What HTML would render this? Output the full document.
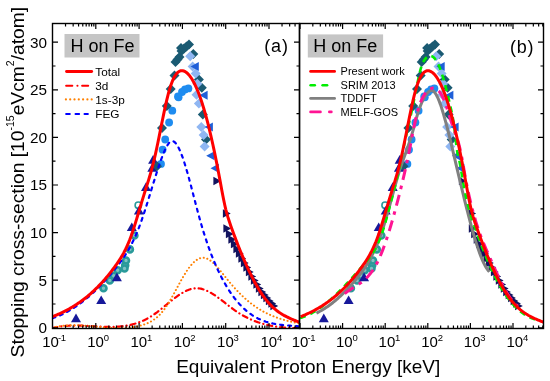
<!DOCTYPE html><html><head><meta charset="utf-8"><style>html,body{margin:0;padding:0;background:#fff;width:550px;height:381px;overflow:hidden}svg{display:block;will-change:transform;font-family:"Liberation Sans",sans-serif}</style></head><body>
<svg width="550" height="381" viewBox="0 0 550 381">
<rect width="550" height="381" fill="#fff"/>
<rect x="64.5" y="34" width="75" height="23.5" fill="#c5c5c5"/>
<rect x="307.8" y="34.4" width="75.3" height="23.1" fill="#c5c5c5"/>
<text x="70.4" y="51.6" font-size="18" fill="#000">H on Fe</text>
<text x="313.2" y="51.6" font-size="18" fill="#000">H on Fe</text>
<text x="264.3" y="51.5" font-size="18" letter-spacing="0.8">(a)</text>
<text x="510" y="52.5" font-size="18" letter-spacing="0.8">(b)</text>
<line x1="66.5" y1="71.5" x2="91.7" y2="71.5" stroke="#ff0000" stroke-width="2.8" stroke-linecap="round"/>
<line x1="66.1" y1="85.7" x2="72.3" y2="85.7" stroke="#ff0000" stroke-width="2.0" stroke-linecap="round"/>
<line x1="77.4" y1="85.7" x2="77.5" y2="85.7" stroke="#ff0000" stroke-width="2.0" stroke-linecap="round"/>
<line x1="82.1" y1="85.7" x2="88.2" y2="85.7" stroke="#ff0000" stroke-width="2.0" stroke-linecap="round"/>
<circle cx="65.9" cy="99.4" r="1.1" fill="#ff8000"/>
<circle cx="70.2" cy="99.4" r="1.1" fill="#ff8000"/>
<circle cx="74.5" cy="99.4" r="1.1" fill="#ff8000"/>
<circle cx="78.8" cy="99.4" r="1.1" fill="#ff8000"/>
<circle cx="83.1" cy="99.4" r="1.1" fill="#ff8000"/>
<circle cx="87.4" cy="99.4" r="1.1" fill="#ff8000"/>
<circle cx="91.7" cy="99.4" r="1.1" fill="#ff8000"/>
<line x1="66.1" y1="113.9" x2="69.8" y2="113.9" stroke="#0000ff" stroke-width="2.0" stroke-linecap="round"/>
<line x1="75.5" y1="113.9" x2="79.1" y2="113.9" stroke="#0000ff" stroke-width="2.0" stroke-linecap="round"/>
<line x1="84.5" y1="113.9" x2="87.9" y2="113.9" stroke="#0000ff" stroke-width="2.0" stroke-linecap="round"/>
<text x="95.3" y="75.6" font-size="11.8">Total</text>
<text x="95.3" y="89.8" font-size="11.8">3d</text>
<text x="95.3" y="103.5" font-size="11.8">1s-3p</text>
<text x="95.3" y="118.0" font-size="11.8">FEG</text>
<line x1="310.6" y1="71.4" x2="334.6" y2="71.4" stroke="#ff0000" stroke-width="2.8" stroke-linecap="round"/>
<line x1="310.6" y1="85.3" x2="314.8" y2="85.3" stroke="#00ee00" stroke-width="2.6" stroke-linecap="round"/>
<line x1="322.6" y1="85.3" x2="327.1" y2="85.3" stroke="#00ee00" stroke-width="2.6" stroke-linecap="round"/>
<line x1="310.6" y1="98.4" x2="334.6" y2="98.4" stroke="#808080" stroke-width="2.8" stroke-linecap="round"/>
<line x1="310.6" y1="111.9" x2="320.4" y2="111.9" stroke="#ff1493" stroke-width="2.8" stroke-linecap="round"/>
<line x1="329.4" y1="111.9" x2="331.3" y2="111.9" stroke="#ff1493" stroke-width="2.8" stroke-linecap="round"/>
<text x="340.6" y="75.3" font-size="11">Present work</text>
<text x="340.6" y="89.2" font-size="11">SRIM 2013</text>
<text x="340.6" y="102.3" font-size="11">TDDFT</text>
<text x="340.6" y="115.8" font-size="11">MELF-GOS</text>
<defs><clipPath id="cl"><rect x="52.5" y="23.5" width="247.0" height="305.0"/></clipPath><clipPath id="cr"><rect x="299.5" y="23.5" width="244.0" height="305.0"/></clipPath></defs>
<g clip-path="url(#cl)">
<circle cx="103.5" cy="288.3" r="3.0" fill="#7fc2c2" stroke="#2a9a9a" stroke-width="2.6"/>
<circle cx="109.8" cy="280.5" r="3.0" fill="#7fc2c2" stroke="#2a9a9a" stroke-width="2.6"/>
<circle cx="113.8" cy="275.7" r="3.0" fill="#7fc2c2" stroke="#2a9a9a" stroke-width="2.6"/>
<circle cx="117.7" cy="270.2" r="3.0" fill="#7fc2c2" stroke="#2a9a9a" stroke-width="2.6"/>
<circle cx="125.2" cy="265.2" r="3.0" fill="#7fc2c2" stroke="#2a9a9a" stroke-width="2.6"/>
<circle cx="126.0" cy="260.5" r="3.0" fill="#7fc2c2" stroke="#2a9a9a" stroke-width="2.6"/>
<circle cx="124.5" cy="268.5" r="3.0" fill="#7fc2c2" stroke="#2a9a9a" stroke-width="2.6"/>
<circle cx="129.9" cy="249.4" r="3.0" fill="#7fc2c2" stroke="#2a9a9a" stroke-width="2.6"/>
<circle cx="134.4" cy="235.5" r="3.0" fill="#7fc2c2" stroke="#2a9a9a" stroke-width="2.6"/>
<circle cx="138.3" cy="205.2" r="3.2" fill="none" stroke="#2a9a9a" stroke-width="1.6"/>
<path d="M76.0,313.5 L81.0,322.2 L71.0,322.2Z" fill="#16189a"/>
<path d="M101.2,295.4 L106.2,304.1 L96.2,304.1Z" fill="#16189a"/>
<path d="M116.9,272.5 L121.9,281.2 L111.9,281.2Z" fill="#16189a"/>
<path d="M131.8,222.4 L136.8,231.1 L126.8,231.1Z" fill="#16189a"/>
<path d="M138.9,205.9 L143.9,214.6 L133.9,214.6Z" fill="#16189a"/>
<path d="M146.0,182.3 L151.0,191.0 L141.0,191.0Z" fill="#16189a"/>
<path d="M152.3,163.0 L157.3,171.7 L147.3,171.7Z" fill="#16189a"/>
<path d="M153.1,155.1 L158.1,163.8 L148.1,163.8Z" fill="#16189a"/>
<circle cx="165.2" cy="139.5" r="3.9" fill="#1e8cf0"/>
<circle cx="162.6" cy="149.7" r="3.9" fill="#1e8cf0"/>
<circle cx="161.0" cy="163.9" r="3.9" fill="#1e8cf0"/>
<circle cx="169.1" cy="122.5" r="3.9" fill="#1e8cf0"/>
<circle cx="172.3" cy="110.7" r="3.9" fill="#1e8cf0"/>
<circle cx="178.6" cy="97.3" r="3.9" fill="#1e8cf0"/>
<circle cx="182.0" cy="92.0" r="3.9" fill="#1e8cf0"/>
<circle cx="185.0" cy="89.4" r="3.9" fill="#1e8cf0"/>
<circle cx="188.4" cy="88.4" r="3.9" fill="#1e8cf0"/>
<circle cx="178.0" cy="96.4" r="3.9" fill="#1e8cf0"/>
<path d="M175.5,57.0 L180.5,62.0 L175.5,67.0 L170.5,62.0Z" fill="#1a5a72"/>
<path d="M177.5,54.5 L182.5,59.5 L177.5,64.5 L172.5,59.5Z" fill="#1a5a72"/>
<path d="M179.5,52.0 L184.5,57.0 L179.5,62.0 L174.5,57.0Z" fill="#1a5a72"/>
<path d="M181.5,46.0 L186.5,51.0 L181.5,56.0 L176.5,51.0Z" fill="#1a5a72"/>
<path d="M184.0,43.5 L189.0,48.5 L184.0,53.5 L179.0,48.5Z" fill="#1a5a72"/>
<path d="M186.5,41.5 L191.5,46.5 L186.5,51.5 L181.5,46.5Z" fill="#1a5a72"/>
<path d="M189.0,39.5 L194.0,44.5 L189.0,49.5 L184.0,44.5Z" fill="#1a5a72"/>
<path d="M181.0,43.0 L186.0,48.0 L181.0,53.0 L176.0,48.0Z" fill="#1a5a72"/>
<path d="M193.3,48.9 L198.3,53.9 L193.3,58.9 L188.3,53.9Z" fill="#1a5a72"/>
<path d="M174.5,70.5 L179.5,75.5 L174.5,80.5 L169.5,75.5Z" fill="#1a5a72"/>
<path d="M170.7,83.9 L175.7,88.9 L170.7,93.9 L165.7,88.9Z" fill="#1a5a72"/>
<path d="M198.9,74.5 L203.9,79.5 L198.9,84.5 L193.9,79.5Z" fill="#1a5a72"/>
<path d="M201.8,82.8 L206.8,87.8 L201.8,92.8 L196.8,87.8Z" fill="#1a5a72"/>
<path d="M166.8,101.0 L171.8,106.0 L166.8,111.0 L161.8,106.0Z" fill="#1a5a72"/>
<path d="M162.0,123.0 L167.0,128.0 L162.0,133.0 L157.0,128.0Z" fill="#1a5a72"/>
<path d="M157.0,161.2 L162.0,166.2 L157.0,171.2 L152.0,166.2Z" fill="#1a5a72"/>
<path d="M202.8,109.4 L207.8,114.4 L202.8,119.4 L197.8,114.4Z" fill="#1a5a72"/>
<path d="M206.0,134.6 L211.0,139.6 L206.0,144.6 L201.0,139.6Z" fill="#1a5a72"/>
<path d="M190.2,51.3 L195.2,56.3 L190.2,61.3 L185.2,56.3Z" fill="#8fb6f2"/>
<path d="M192.6,61.5 L197.6,66.5 L192.6,71.5 L187.6,66.5Z" fill="#8fb6f2"/>
<path d="M195.7,68.5 L200.7,73.5 L195.7,78.5 L190.7,73.5Z" fill="#8fb6f2"/>
<path d="M197.3,78.8 L202.3,83.8 L197.3,88.8 L192.3,83.8Z" fill="#8fb6f2"/>
<path d="M196.5,89.7 L201.5,94.7 L196.5,99.7 L191.5,94.7Z" fill="#8fb6f2"/>
<path d="M198.9,98.4 L203.9,103.4 L198.9,108.4 L193.9,103.4Z" fill="#8fb6f2"/>
<path d="M201.3,122.0 L206.3,127.0 L201.3,132.0 L196.3,127.0Z" fill="#8fb6f2"/>
<path d="M203.6,129.9 L208.6,134.9 L203.6,139.9 L198.6,134.9Z" fill="#8fb6f2"/>
<path d="M204.6,141.5 L209.6,146.5 L204.6,151.5 L199.6,146.5Z" fill="#8fb6f2"/>
<path d="M190.5,66.5 L198.8,62.0 L198.8,71.0Z" fill="#1f5fd8"/>
<path d="M199.3,95.3 L207.6,90.8 L207.6,99.8Z" fill="#1f5fd8"/>
<path d="M204.6,127.0 L212.9,122.5 L212.9,131.5Z" fill="#1f5fd8"/>
<path d="M206.2,155.7 L214.5,151.2 L214.5,160.2Z" fill="#1f5fd8"/>
<path d="M210.5,168.3 L218.8,163.8 L218.8,172.8Z" fill="#1f5fd8"/>
<path d="M221.2,181.0 L213.4,176.8 L213.4,185.2Z" fill="#12135e"/>
<path d="M230.7,213.5 L222.9,209.3 L222.9,217.7Z" fill="#12135e"/>
<path d="M231.2,228.5 L223.4,224.3 L223.4,232.7Z" fill="#12135e"/>
<path d="M233.7,234.0 L225.9,229.8 L225.9,238.2Z" fill="#12135e"/>
<path d="M236.2,239.5 L228.4,235.3 L228.4,243.7Z" fill="#12135e"/>
<path d="M238.7,244.0 L230.9,239.8 L230.9,248.2Z" fill="#12135e"/>
<path d="M241.2,249.0 L233.4,244.8 L233.4,253.2Z" fill="#12135e"/>
<path d="M243.7,253.5 L235.9,249.3 L235.9,257.7Z" fill="#12135e"/>
<path d="M246.2,258.5 L238.4,254.3 L238.4,262.7Z" fill="#12135e"/>
<path d="M248.7,263.0 L240.9,258.8 L240.9,267.2Z" fill="#12135e"/>
<path d="M251.2,267.5 L243.4,263.3 L243.4,271.7Z" fill="#12135e"/>
<path d="M253.7,272.0 L245.9,267.8 L245.9,276.2Z" fill="#12135e"/>
<path d="M256.2,276.5 L248.4,272.3 L248.4,280.7Z" fill="#12135e"/>
<path d="M258.7,280.5 L250.9,276.3 L250.9,284.7Z" fill="#12135e"/>
<path d="M261.2,284.5 L253.4,280.3 L253.4,288.7Z" fill="#12135e"/>
<path d="M263.7,288.5 L255.9,284.3 L255.9,292.7Z" fill="#12135e"/>
<path d="M266.2,292.0 L258.4,287.8 L258.4,296.2Z" fill="#12135e"/>
<path d="M268.7,295.0 L260.9,290.8 L260.9,299.2Z" fill="#12135e"/>
<path d="M271.2,298.0 L263.4,293.8 L263.4,302.2Z" fill="#12135e"/>
<path d="M273.7,301.0 L265.9,296.8 L265.9,305.2Z" fill="#12135e"/>
<path d="M276.2,303.5 L268.4,299.3 L268.4,307.7Z" fill="#12135e"/>
<path d="M278.2,306.0 L270.4,301.8 L270.4,310.2Z" fill="#12135e"/>
<path d="M52.40,328.16 L53.40,327.90 L54.40,327.66 L55.41,327.44 L56.41,327.23 L57.41,327.03 L58.41,326.85 L59.42,326.68 L60.42,326.53 L61.42,326.39 L62.42,326.26 L63.43,326.14 L64.43,326.04 L65.43,325.94 L66.43,325.86 L67.44,325.79 L68.44,325.73 L69.44,325.68 L70.44,325.63 L71.45,325.60 L72.45,325.57 L73.45,325.56 L74.45,325.55 L75.46,325.55 L76.46,325.55 L77.46,325.56 L78.46,325.58 L79.47,325.60 L80.47,325.63 L81.47,325.66 L82.47,325.70 L83.48,325.74 L84.48,325.79 L85.48,325.84 L86.48,325.89 L87.49,325.94 L88.49,326.00 L89.49,326.05 L90.49,326.11 L91.49,326.17 L92.50,326.23 L93.50,326.29 L94.50,326.35 L95.50,326.41 L96.51,326.47 L97.51,326.53 L98.51,326.58 L99.51,326.63 L100.52,326.68 L101.52,326.73 L102.52,326.77 L103.52,326.81 L104.53,326.84 L105.53,326.87 L106.53,326.89 L107.53,326.91 L108.54,326.92 L109.54,326.93 L110.54,326.93 L111.54,326.92 L112.55,326.90 L113.55,326.88 L114.55,326.85 L115.55,326.80 L116.56,326.75 L117.56,326.69 L118.56,326.62 L119.56,326.54 L120.57,326.45 L121.57,326.35 L122.57,326.23 L123.57,326.11 L124.57,325.97 L125.58,325.81 L126.58,325.65 L127.58,325.47 L128.58,325.28 L129.59,325.07 L130.59,324.85 L131.59,324.61 L132.59,324.35 L133.60,324.08 L134.60,323.80 L135.60,323.49 L136.60,323.17 L137.61,322.84 L138.61,322.48 L139.61,322.10 L140.61,321.71 L141.62,321.30 L142.62,320.86 L143.62,320.41 L144.62,319.94 L145.63,319.44 L146.63,318.92 L147.63,318.39 L148.63,317.83 L149.64,317.24 L150.64,316.64 L151.64,316.01 L152.64,315.36 L153.65,314.68 L154.65,313.98 L155.65,313.26 L156.65,312.52 L157.66,311.77 L158.66,311.00 L159.66,310.22 L160.66,309.42 L161.66,308.62 L162.67,307.81 L163.67,306.99 L164.67,306.17 L165.67,305.34 L166.68,304.52 L167.68,303.69 L168.68,302.87 L169.68,302.06 L170.69,301.25 L171.69,300.44 L172.69,299.65 L173.69,298.87 L174.70,298.10 L175.70,297.35 L176.70,296.62 L177.70,295.90 L178.71,295.21 L179.71,294.53 L180.71,293.89 L181.71,293.26 L182.72,292.67 L183.72,292.10 L184.72,291.57 L185.72,291.07 L186.73,290.60 L187.73,290.17 L188.73,289.78 L189.73,289.43 L190.74,289.12 L191.74,288.86 L192.74,288.64 L193.74,288.46 L194.74,288.34 L195.75,288.27 L196.75,288.25 L197.75,288.28 L198.75,288.37 L199.76,288.50 L200.76,288.69 L201.76,288.92 L202.76,289.19 L203.77,289.51 L204.77,289.86 L205.77,290.26 L206.77,290.69 L207.78,291.16 L208.78,291.66 L209.78,292.19 L210.78,292.76 L211.79,293.35 L212.79,293.96 L213.79,294.60 L214.79,295.26 L215.80,295.95 L216.80,296.65 L217.80,297.37 L218.80,298.10 L219.81,298.84 L220.81,299.60 L221.81,300.37 L222.81,301.14 L223.82,301.92 L224.82,302.70 L225.82,303.49 L226.82,304.27 L227.83,305.06 L228.83,305.83 L229.83,306.61 L230.83,307.38 L231.83,308.13 L232.84,308.88 L233.84,309.61 L234.84,310.33 L235.84,311.04 L236.85,311.72 L237.85,312.39 L238.85,313.04 L239.85,313.67 L240.86,314.28 L241.86,314.87 L242.86,315.45 L243.86,316.01 L244.87,316.56 L245.87,317.09 L246.87,317.60 L247.87,318.10 L248.88,318.58 L249.88,319.04 L250.88,319.49 L251.88,319.93 L252.89,320.35 L253.89,320.75 L254.89,321.15 L255.89,321.52 L256.90,321.89 L257.90,322.24 L258.90,322.58 L259.90,322.90 L260.91,323.22 L261.91,323.52 L262.91,323.81 L263.91,324.08 L264.91,324.35 L265.92,324.60 L266.92,324.84 L267.92,325.08 L268.92,325.30 L269.93,325.51 L270.93,325.71 L271.93,325.90 L272.93,326.08 L273.94,326.25 L274.94,326.42 L275.94,326.57 L276.94,326.72 L277.95,326.86 L278.95,326.99 L279.95,327.11 L280.95,327.22 L281.96,327.33 L282.96,327.43 L283.96,327.52 L284.96,327.61 L285.97,327.69 L286.97,327.76 L287.97,327.83 L288.97,327.89 L289.98,327.95 L290.98,328.00 L291.98,328.05 L292.98,328.10 L293.99,328.14 L294.99,328.17 L295.99,328.20 L296.99,328.23 L298.00,328.25 L299.00,328.28 L300.00,328.30" fill="none" stroke="#ff0000" stroke-width="2.2" stroke-linecap="round" stroke-dasharray="5,4,0.1,4"/>
<path d="M52.40,327.76 L53.40,327.50 L54.40,327.25 L55.41,327.02 L56.41,326.81 L57.41,326.61 L58.41,326.43 L59.42,326.26 L60.42,326.10 L61.42,325.96 L62.42,325.83 L63.43,325.72 L64.43,325.62 L65.43,325.53 L66.43,325.45 L67.44,325.38 L68.44,325.33 L69.44,325.28 L70.44,325.25 L71.45,325.22 L72.45,325.21 L73.45,325.20 L74.45,325.20 L75.46,325.21 L76.46,325.23 L77.46,325.26 L78.46,325.29 L79.47,325.33 L80.47,325.38 L81.47,325.43 L82.47,325.49 L83.48,325.55 L84.48,325.62 L85.48,325.70 L86.48,325.77 L87.49,325.86 L88.49,325.94 L89.49,326.03 L90.49,326.12 L91.49,326.21 L92.50,326.31 L93.50,326.40 L94.50,326.50 L95.50,326.60 L96.51,326.70 L97.51,326.80 L98.51,326.89 L99.51,326.99 L100.52,327.09 L101.52,327.18 L102.52,327.27 L103.52,327.36 L104.53,327.45 L105.53,327.53 L106.53,327.61 L107.53,327.69 L108.54,327.76 L109.54,327.83 L110.54,327.90 L111.54,327.95 L112.55,328.00 L113.55,328.05 L114.55,328.09 L115.55,328.12 L116.56,328.15 L117.56,328.16 L118.56,328.17 L119.56,328.17 L120.57,328.16 L121.57,328.15 L122.57,328.12 L123.57,328.08 L124.57,328.04 L125.58,327.98 L126.58,327.91 L127.58,327.83 L128.58,327.73 L129.59,327.63 L130.59,327.51 L131.59,327.38 L132.59,327.24 L133.60,327.08 L134.60,326.91 L135.60,326.72 L136.60,326.52 L137.61,326.30 L138.61,326.07 L139.61,325.82 L140.61,325.56 L141.62,325.27 L142.62,324.97 L143.62,324.65 L144.62,324.31 L145.63,323.95 L146.63,323.56 L147.63,323.14 L148.63,322.68 L149.64,322.19 L150.64,321.67 L151.64,321.10 L152.64,320.49 L153.65,319.83 L154.65,319.13 L155.65,318.37 L156.65,317.56 L157.66,316.70 L158.66,315.77 L159.66,314.78 L160.66,313.73 L161.66,312.61 L162.67,311.43 L163.67,310.16 L164.67,308.83 L165.67,307.41 L166.68,305.93 L167.68,304.37 L168.68,302.75 L169.68,301.08 L170.69,299.37 L171.69,297.61 L172.69,295.82 L173.69,294.00 L174.70,292.17 L175.70,290.32 L176.70,288.46 L177.70,286.60 L178.71,284.75 L179.71,282.92 L180.71,281.10 L181.71,279.32 L182.72,277.57 L183.72,275.86 L184.72,274.19 L185.72,272.58 L186.73,271.04 L187.73,269.56 L188.73,268.15 L189.73,266.82 L190.74,265.57 L191.74,264.40 L192.74,263.31 L193.74,262.31 L194.74,261.40 L195.75,260.58 L196.75,259.86 L197.75,259.24 L198.75,258.72 L199.76,258.31 L200.76,258.00 L201.76,257.80 L202.76,257.72 L203.77,257.75 L204.77,257.90 L205.77,258.16 L206.77,258.52 L207.78,258.98 L208.78,259.54 L209.78,260.18 L210.78,260.90 L211.79,261.69 L212.79,262.56 L213.79,263.49 L214.79,264.48 L215.80,265.53 L216.80,266.61 L217.80,267.74 L218.80,268.91 L219.81,270.11 L220.81,271.33 L221.81,272.56 L222.81,273.81 L223.82,275.07 L224.82,276.33 L225.82,277.58 L226.82,278.83 L227.83,280.06 L228.83,281.27 L229.83,282.47 L230.83,283.66 L231.83,284.82 L232.84,285.97 L233.84,287.11 L234.84,288.22 L235.84,289.32 L236.85,290.40 L237.85,291.46 L238.85,292.50 L239.85,293.52 L240.86,294.52 L241.86,295.49 L242.86,296.45 L243.86,297.38 L244.87,298.29 L245.87,299.18 L246.87,300.05 L247.87,300.90 L248.88,301.72 L249.88,302.53 L250.88,303.31 L251.88,304.08 L252.89,304.82 L253.89,305.55 L254.89,306.25 L255.89,306.94 L256.90,307.61 L257.90,308.26 L258.90,308.90 L259.90,309.51 L260.91,310.11 L261.91,310.69 L262.91,311.26 L263.91,311.81 L264.91,312.34 L265.92,312.86 L266.92,313.36 L267.92,313.85 L268.92,314.33 L269.93,314.79 L270.93,315.23 L271.93,315.66 L272.93,316.08 L273.94,316.49 L274.94,316.88 L275.94,317.26 L276.94,317.63 L277.95,317.99 L278.95,318.33 L279.95,318.67 L280.95,318.99 L281.96,319.31 L282.96,319.61 L283.96,319.90 L284.96,320.19 L285.97,320.46 L286.97,320.73 L287.97,320.99 L288.97,321.24 L289.98,321.48 L290.98,321.72 L291.98,321.94 L292.98,322.17 L293.99,322.38 L294.99,322.59 L295.99,322.79 L296.99,322.99 L298.00,323.18 L299.00,323.36 L300.00,323.55" fill="none" stroke="#ff8000" stroke-width="2" stroke-linecap="round" stroke-dasharray="0.1,3.6"/>
<path d="M52.40,318.22 L53.40,317.89 L54.40,317.55 L55.41,317.19 L56.41,316.81 L57.41,316.42 L58.41,316.01 L59.42,315.59 L60.42,315.15 L61.42,314.70 L62.42,314.23 L63.43,313.75 L64.43,313.25 L65.43,312.74 L66.43,312.21 L67.44,311.67 L68.44,311.11 L69.44,310.54 L70.44,309.95 L71.45,309.35 L72.45,308.73 L73.45,308.10 L74.45,307.45 L75.46,306.79 L76.46,306.11 L77.46,305.42 L78.46,304.71 L79.47,303.99 L80.47,303.25 L81.47,302.50 L82.47,301.74 L83.48,300.96 L84.48,300.16 L85.48,299.35 L86.48,298.53 L87.49,297.69 L88.49,296.83 L89.49,295.97 L90.49,295.08 L91.49,294.19 L92.50,293.27 L93.50,292.35 L94.50,291.41 L95.50,290.45 L96.51,289.48 L97.51,288.50 L98.51,287.50 L99.51,286.49 L100.52,285.46 L101.52,284.42 L102.52,283.36 L103.52,282.29 L104.53,281.21 L105.53,280.11 L106.53,279.00 L107.53,277.87 L108.54,276.73 L109.54,275.58 L110.54,274.41 L111.54,273.22 L112.55,272.03 L113.55,270.81 L114.55,269.59 L115.55,268.35 L116.56,267.09 L117.56,265.82 L118.56,264.53 L119.56,263.21 L120.57,261.87 L121.57,260.49 L122.57,259.08 L123.57,257.62 L124.57,256.12 L125.58,254.58 L126.58,252.98 L127.58,251.33 L128.58,249.62 L129.59,247.84 L130.59,246.00 L131.59,244.09 L132.59,242.11 L133.60,240.05 L134.60,237.90 L135.60,235.67 L136.60,233.36 L137.61,230.94 L138.61,228.44 L139.61,225.83 L140.61,223.12 L141.62,220.30 L142.62,217.40 L143.62,214.42 L144.62,211.36 L145.63,208.25 L146.63,205.09 L147.63,201.88 L148.63,198.64 L149.64,195.38 L150.64,192.11 L151.64,188.83 L152.64,185.57 L153.65,182.32 L154.65,179.10 L155.65,175.91 L156.65,172.77 L157.66,169.69 L158.66,166.67 L159.66,163.73 L160.66,160.88 L161.66,158.12 L162.67,155.46 L163.67,152.94 L164.67,150.59 L165.67,148.42 L166.68,146.48 L167.68,144.79 L168.68,143.38 L169.68,142.28 L170.69,141.53 L171.69,141.14 L172.69,141.14 L173.69,141.49 L174.70,142.19 L175.70,143.20 L176.70,144.52 L177.70,146.12 L178.71,147.98 L179.71,150.09 L180.71,152.43 L181.71,154.99 L182.72,157.73 L183.72,160.66 L184.72,163.76 L185.72,167.00 L186.73,170.38 L187.73,173.87 L188.73,177.46 L189.73,181.14 L190.74,184.89 L191.74,188.69 L192.74,192.52 L193.74,196.37 L194.74,200.23 L195.75,204.08 L196.75,207.89 L197.75,211.66 L198.75,215.38 L199.76,219.01 L200.76,222.55 L201.76,226.00 L202.76,229.36 L203.77,232.62 L204.77,235.80 L205.77,238.88 L206.77,241.88 L207.78,244.80 L208.78,247.64 L209.78,250.39 L210.78,253.07 L211.79,255.67 L212.79,258.20 L213.79,260.65 L214.79,263.03 L215.80,265.35 L216.80,267.59 L217.80,269.78 L218.80,271.89 L219.81,273.95 L220.81,275.95 L221.81,277.89 L222.81,279.78 L223.82,281.61 L224.82,283.39 L225.82,285.12 L226.82,286.80 L227.83,288.43 L228.83,290.02 L229.83,291.55 L230.83,293.04 L231.83,294.49 L232.84,295.88 L233.84,297.24 L234.84,298.55 L235.84,299.82 L236.85,301.04 L237.85,302.23 L238.85,303.37 L239.85,304.48 L240.86,305.54 L241.86,306.57 L242.86,307.56 L243.86,308.51 L244.87,309.43 L245.87,310.31 L246.87,311.16 L247.87,311.97 L248.88,312.75 L249.88,313.50 L250.88,314.21 L251.88,314.90 L252.89,315.55 L253.89,316.18 L254.89,316.78 L255.89,317.35 L256.90,317.89 L257.90,318.41 L258.90,318.90 L259.90,319.37 L260.91,319.81 L261.91,320.23 L262.91,320.63 L263.91,321.01 L264.91,321.36 L265.92,321.70 L266.92,322.01 L267.92,322.31 L268.92,322.59 L269.93,322.85 L270.93,323.10 L271.93,323.33 L272.93,323.54 L273.94,323.74 L274.94,323.93 L275.94,324.10 L276.94,324.27 L277.95,324.42 L278.95,324.56 L279.95,324.69 L280.95,324.82 L281.96,324.93 L282.96,325.04 L283.96,325.14 L284.96,325.23 L285.97,325.33 L286.97,325.41 L287.97,325.49 L288.97,325.57 L289.98,325.65 L290.98,325.73 L291.98,325.80 L292.98,325.88 L293.99,325.96 L294.99,326.04 L295.99,326.12 L296.99,326.20 L298.00,326.29 L299.00,326.38 L300.00,326.48" fill="none" stroke="#0000ff" stroke-width="2.2" stroke-linecap="round" stroke-dasharray="3,5"/>
<path d="M52.40,316.70 L53.40,316.30 L54.40,315.90 L55.41,315.49 L56.41,315.08 L57.41,314.65 L58.41,314.21 L59.42,313.77 L60.42,313.31 L61.42,312.84 L62.42,312.37 L63.43,311.88 L64.43,311.38 L65.43,310.87 L66.43,310.35 L67.44,309.82 L68.44,309.27 L69.44,308.71 L70.44,308.15 L71.45,307.56 L72.45,306.97 L73.45,306.36 L74.45,305.74 L75.46,305.10 L76.46,304.46 L77.46,303.79 L78.46,303.12 L79.47,302.42 L80.47,301.72 L81.47,300.99 L82.47,300.26 L83.48,299.50 L84.48,298.74 L85.48,297.95 L86.48,297.15 L87.49,296.33 L88.49,295.50 L89.49,294.65 L90.49,293.78 L91.49,292.89 L92.50,291.99 L93.50,291.06 L94.50,290.12 L95.50,289.16 L96.51,288.19 L97.51,287.19 L98.51,286.17 L99.51,285.14 L100.52,284.08 L101.52,283.00 L102.52,281.91 L103.52,280.79 L104.53,279.65 L105.53,278.50 L106.53,277.32 L107.53,276.12 L108.54,274.89 L109.54,273.65 L110.54,272.38 L111.54,271.09 L112.55,269.78 L113.55,268.44 L114.55,267.08 L115.55,265.70 L116.56,264.29 L117.56,262.86 L118.56,261.38 L119.56,259.85 L120.57,258.27 L121.57,256.63 L122.57,254.91 L123.57,253.11 L124.57,251.21 L125.58,249.22 L126.58,247.12 L127.58,244.91 L128.58,242.57 L129.59,240.10 L130.59,237.49 L131.59,234.73 L132.59,231.82 L133.60,228.77 L134.60,225.62 L135.60,222.38 L136.60,219.09 L137.61,215.75 L138.61,212.39 L139.61,209.05 L140.61,205.73 L141.62,202.43 L142.62,199.16 L143.62,195.91 L144.62,192.67 L145.63,189.46 L146.63,186.26 L147.63,183.07 L148.63,179.85 L149.64,176.56 L150.64,173.16 L151.64,169.61 L152.64,165.86 L153.65,161.88 L154.65,157.65 L155.65,153.19 L156.65,148.55 L157.66,143.76 L158.66,138.86 L159.66,133.90 L160.66,128.90 L161.66,123.91 L162.67,118.97 L163.67,114.12 L164.67,109.39 L165.67,104.82 L166.68,100.45 L167.68,96.32 L168.68,92.47 L169.68,88.94 L170.69,85.76 L171.69,82.93 L172.69,80.43 L173.69,78.25 L174.70,76.38 L175.70,74.80 L176.70,73.50 L177.70,72.46 L178.71,71.67 L179.71,71.12 L180.71,70.80 L181.71,70.68 L182.72,70.76 L183.72,71.02 L184.72,71.44 L185.72,72.03 L186.73,72.77 L187.73,73.66 L188.73,74.71 L189.73,75.91 L190.74,77.27 L191.74,78.77 L192.74,80.43 L193.74,82.24 L194.74,84.20 L195.75,86.31 L196.75,88.56 L197.75,90.97 L198.75,93.52 L199.76,96.22 L200.76,99.06 L201.76,102.05 L202.76,105.18 L203.77,108.46 L204.77,111.88 L205.77,115.44 L206.77,119.15 L207.78,122.99 L208.78,126.97 L209.78,131.09 L210.78,135.35 L211.79,139.74 L212.79,144.25 L213.79,148.90 L214.79,153.68 L215.80,158.58 L216.80,163.60 L217.80,168.75 L218.80,174.01 L219.81,179.39 L220.81,184.83 L221.81,190.23 L222.81,195.50 L223.82,200.54 L224.82,205.25 L225.82,209.55 L226.82,213.41 L227.83,216.89 L228.83,220.07 L229.83,223.05 L230.83,225.90 L231.83,228.69 L232.84,231.45 L233.84,234.18 L234.84,236.87 L235.84,239.53 L236.85,242.15 L237.85,244.73 L238.85,247.28 L239.85,249.79 L240.86,252.26 L241.86,254.69 L242.86,257.08 L243.86,259.43 L244.87,261.74 L245.87,264.01 L246.87,266.24 L247.87,268.42 L248.88,270.56 L249.88,272.66 L250.88,274.71 L251.88,276.71 L252.89,278.67 L253.89,280.58 L254.89,282.45 L255.89,284.26 L256.90,286.03 L257.90,287.75 L258.90,289.41 L259.90,291.03 L260.91,292.59 L261.91,294.11 L262.91,295.57 L263.91,296.97 L264.91,298.32 L265.92,299.62 L266.92,300.87 L267.92,302.06 L268.92,303.20 L269.93,304.29 L270.93,305.33 L271.93,306.33 L272.93,307.28 L273.94,308.19 L274.94,309.06 L275.94,309.89 L276.94,310.69 L277.95,311.44 L278.95,312.17 L279.95,312.86 L280.95,313.52 L281.96,314.15 L282.96,314.76 L283.96,315.34 L284.96,315.89 L285.97,316.42 L286.97,316.94 L287.97,317.43 L288.97,317.91 L289.98,318.37 L290.98,318.81 L291.98,319.25 L292.98,319.67 L293.99,320.09 L294.99,320.50 L295.99,320.90 L296.99,321.30 L298.00,321.69 L299.00,322.09 L300.00,322.49" fill="none" stroke="#ff0000" stroke-width="3"/>
</g>
<g clip-path="url(#cr)">
<circle cx="350.9" cy="288.3" r="3.0" fill="#7fc2c2" stroke="#2a9a9a" stroke-width="2.6"/>
<circle cx="357.1" cy="280.5" r="3.0" fill="#7fc2c2" stroke="#2a9a9a" stroke-width="2.6"/>
<circle cx="361.0" cy="275.7" r="3.0" fill="#7fc2c2" stroke="#2a9a9a" stroke-width="2.6"/>
<circle cx="364.8" cy="270.2" r="3.0" fill="#7fc2c2" stroke="#2a9a9a" stroke-width="2.6"/>
<circle cx="372.2" cy="265.2" r="3.0" fill="#7fc2c2" stroke="#2a9a9a" stroke-width="2.6"/>
<circle cx="373.0" cy="260.5" r="3.0" fill="#7fc2c2" stroke="#2a9a9a" stroke-width="2.6"/>
<circle cx="371.5" cy="268.5" r="3.0" fill="#7fc2c2" stroke="#2a9a9a" stroke-width="2.6"/>
<circle cx="376.8" cy="249.4" r="3.0" fill="#7fc2c2" stroke="#2a9a9a" stroke-width="2.6"/>
<circle cx="381.3" cy="235.5" r="3.0" fill="#7fc2c2" stroke="#2a9a9a" stroke-width="2.6"/>
<circle cx="385.1" cy="205.2" r="3.2" fill="none" stroke="#2a9a9a" stroke-width="1.6"/>
<path d="M323.8,313.5 L328.8,322.2 L318.8,322.2Z" fill="#16189a"/>
<path d="M348.6,295.4 L353.6,304.1 L343.6,304.1Z" fill="#16189a"/>
<path d="M364.1,272.5 L369.1,281.2 L359.1,281.2Z" fill="#16189a"/>
<path d="M378.7,222.4 L383.7,231.1 L373.7,231.1Z" fill="#16189a"/>
<path d="M385.7,205.9 L390.7,214.6 L380.7,214.6Z" fill="#16189a"/>
<path d="M392.7,182.3 L397.7,191.0 L387.7,191.0Z" fill="#16189a"/>
<path d="M398.9,163.0 L403.9,171.7 L393.9,171.7Z" fill="#16189a"/>
<path d="M399.7,155.1 L404.7,163.8 L394.7,163.8Z" fill="#16189a"/>
<circle cx="411.6" cy="139.5" r="3.9" fill="#1e8cf0"/>
<circle cx="409.0" cy="149.7" r="3.9" fill="#1e8cf0"/>
<circle cx="407.4" cy="163.9" r="3.9" fill="#1e8cf0"/>
<circle cx="415.4" cy="122.5" r="3.9" fill="#1e8cf0"/>
<circle cx="418.6" cy="110.7" r="3.9" fill="#1e8cf0"/>
<circle cx="424.8" cy="97.3" r="3.9" fill="#1e8cf0"/>
<circle cx="428.1" cy="92.0" r="3.9" fill="#1e8cf0"/>
<circle cx="431.1" cy="89.4" r="3.9" fill="#1e8cf0"/>
<circle cx="434.4" cy="88.4" r="3.9" fill="#1e8cf0"/>
<circle cx="424.2" cy="96.4" r="3.9" fill="#1e8cf0"/>
<path d="M421.7,57.0 L426.7,62.0 L421.7,67.0 L416.7,62.0Z" fill="#1a5a72"/>
<path d="M423.7,54.5 L428.7,59.5 L423.7,64.5 L418.7,59.5Z" fill="#1a5a72"/>
<path d="M425.6,52.0 L430.6,57.0 L425.6,62.0 L420.6,57.0Z" fill="#1a5a72"/>
<path d="M427.6,46.0 L432.6,51.0 L427.6,56.0 L422.6,51.0Z" fill="#1a5a72"/>
<path d="M430.1,43.5 L435.1,48.5 L430.1,53.5 L425.1,48.5Z" fill="#1a5a72"/>
<path d="M432.5,41.5 L437.5,46.5 L432.5,51.5 L427.5,46.5Z" fill="#1a5a72"/>
<path d="M435.0,39.5 L440.0,44.5 L435.0,49.5 L430.0,44.5Z" fill="#1a5a72"/>
<path d="M427.1,43.0 L432.1,48.0 L427.1,53.0 L422.1,48.0Z" fill="#1a5a72"/>
<path d="M439.2,48.9 L444.2,53.9 L439.2,58.9 L434.2,53.9Z" fill="#1a5a72"/>
<path d="M420.7,70.5 L425.7,75.5 L420.7,80.5 L415.7,75.5Z" fill="#1a5a72"/>
<path d="M417.0,83.9 L422.0,88.9 L417.0,93.9 L412.0,88.9Z" fill="#1a5a72"/>
<path d="M444.7,74.5 L449.7,79.5 L444.7,84.5 L439.7,79.5Z" fill="#1a5a72"/>
<path d="M447.6,82.8 L452.6,87.8 L447.6,92.8 L442.6,87.8Z" fill="#1a5a72"/>
<path d="M413.2,101.0 L418.2,106.0 L413.2,111.0 L408.2,106.0Z" fill="#1a5a72"/>
<path d="M408.4,123.0 L413.4,128.0 L408.4,133.0 L403.4,128.0Z" fill="#1a5a72"/>
<path d="M403.5,161.2 L408.5,166.2 L403.5,171.2 L398.5,166.2Z" fill="#1a5a72"/>
<path d="M448.6,109.4 L453.6,114.4 L448.6,119.4 L443.6,114.4Z" fill="#1a5a72"/>
<path d="M451.7,134.6 L456.7,139.6 L451.7,144.6 L446.7,139.6Z" fill="#1a5a72"/>
<path d="M436.2,51.3 L441.2,56.3 L436.2,61.3 L431.2,56.3Z" fill="#8fb6f2"/>
<path d="M438.5,61.5 L443.5,66.5 L438.5,71.5 L433.5,66.5Z" fill="#8fb6f2"/>
<path d="M441.6,68.5 L446.6,73.5 L441.6,78.5 L436.6,73.5Z" fill="#8fb6f2"/>
<path d="M443.2,78.8 L448.2,83.8 L443.2,88.8 L438.2,83.8Z" fill="#8fb6f2"/>
<path d="M442.4,89.7 L447.4,94.7 L442.4,99.7 L437.4,94.7Z" fill="#8fb6f2"/>
<path d="M444.7,98.4 L449.7,103.4 L444.7,108.4 L439.7,103.4Z" fill="#8fb6f2"/>
<path d="M447.1,122.0 L452.1,127.0 L447.1,132.0 L442.1,127.0Z" fill="#8fb6f2"/>
<path d="M449.4,129.9 L454.4,134.9 L449.4,139.9 L444.4,134.9Z" fill="#8fb6f2"/>
<path d="M450.3,141.5 L455.3,146.5 L450.3,151.5 L445.3,146.5Z" fill="#8fb6f2"/>
<path d="M436.4,66.5 L444.7,62.0 L444.7,71.0Z" fill="#1f5fd8"/>
<path d="M445.1,95.3 L453.4,90.8 L453.4,99.8Z" fill="#1f5fd8"/>
<path d="M450.3,127.0 L458.6,122.5 L458.6,131.5Z" fill="#1f5fd8"/>
<path d="M451.8,155.7 L460.1,151.2 L460.1,160.2Z" fill="#1f5fd8"/>
<path d="M456.1,168.3 L464.4,163.8 L464.4,172.8Z" fill="#1f5fd8"/>
<path d="M466.7,181.0 L458.9,176.8 L458.9,185.2Z" fill="#12135e"/>
<path d="M476.1,213.5 L468.3,209.3 L468.3,217.7Z" fill="#12135e"/>
<path d="M476.6,228.5 L468.8,224.3 L468.8,232.7Z" fill="#12135e"/>
<path d="M479.0,234.0 L471.2,229.8 L471.2,238.2Z" fill="#12135e"/>
<path d="M481.5,239.5 L473.7,235.3 L473.7,243.7Z" fill="#12135e"/>
<path d="M484.0,244.0 L476.2,239.8 L476.2,248.2Z" fill="#12135e"/>
<path d="M486.4,249.0 L478.6,244.8 L478.6,253.2Z" fill="#12135e"/>
<path d="M488.9,253.5 L481.1,249.3 L481.1,257.7Z" fill="#12135e"/>
<path d="M491.3,258.5 L483.5,254.3 L483.5,262.7Z" fill="#12135e"/>
<path d="M493.8,263.0 L486.0,258.8 L486.0,267.2Z" fill="#12135e"/>
<path d="M496.3,267.5 L488.5,263.3 L488.5,271.7Z" fill="#12135e"/>
<path d="M498.7,272.0 L490.9,267.8 L490.9,276.2Z" fill="#12135e"/>
<path d="M501.2,276.5 L493.4,272.3 L493.4,280.7Z" fill="#12135e"/>
<path d="M503.6,280.5 L495.8,276.3 L495.8,284.7Z" fill="#12135e"/>
<path d="M506.1,284.5 L498.3,280.3 L498.3,288.7Z" fill="#12135e"/>
<path d="M508.6,288.5 L500.8,284.3 L500.8,292.7Z" fill="#12135e"/>
<path d="M511.0,292.0 L503.2,287.8 L503.2,296.2Z" fill="#12135e"/>
<path d="M513.5,295.0 L505.7,290.8 L505.7,299.2Z" fill="#12135e"/>
<path d="M515.9,298.0 L508.1,293.8 L508.1,302.2Z" fill="#12135e"/>
<path d="M518.4,301.0 L510.6,296.8 L510.6,305.2Z" fill="#12135e"/>
<path d="M520.9,303.5 L513.1,299.3 L513.1,307.7Z" fill="#12135e"/>
<path d="M522.8,306.0 L515.0,301.8 L515.0,310.2Z" fill="#12135e"/>
<path d="M316.40,313.04 L317.40,312.56 L318.40,312.06 L319.40,311.54 L320.40,311.00 L321.40,310.44 L322.40,309.86 L323.40,309.26 L324.40,308.64 L325.40,308.00 L326.40,307.33 L327.40,306.65 L328.40,305.95 L329.40,305.23 L330.40,304.49 L331.40,303.73 L332.40,302.95 L333.40,302.15 L334.40,301.33 L335.40,300.50 L336.40,299.64 L337.40,298.77 L338.40,297.88 L339.40,296.97 L340.40,296.04 L341.40,295.09 L342.40,294.13 L343.40,293.14 L344.40,292.14 L345.40,291.13 L346.40,290.09 L347.40,289.04 L348.40,287.97 L349.40,286.88 L350.40,285.78 L351.40,284.66 L352.40,283.52 L353.40,282.36 L354.40,281.19 L355.40,280.01 L356.40,278.80 L357.40,277.58 L358.40,276.35 L359.40,275.08 L360.40,273.79 L361.40,272.47 L362.40,271.12 L363.40,269.72 L364.40,268.28 L365.40,266.79 L366.40,265.25 L367.40,263.65 L368.40,261.99 L369.40,260.26 L370.40,258.47 L371.40,256.60 L372.40,254.65 L373.40,252.62 L374.40,250.50 L375.40,248.30 L376.40,246.00 L377.40,243.59 L378.40,241.09 L379.40,238.48 L380.40,235.76 L381.40,232.93 L382.40,229.99 L383.40,226.94 L384.40,223.78 L385.40,220.51 L386.40,217.13 L387.40,213.66 L388.40,210.11 L389.40,206.50 L390.40,202.85 L391.40,199.17 L392.40,195.49 L393.40,191.81 L394.40,188.17 L395.40,184.58 L396.40,181.04 L397.40,177.60 L398.40,174.25 L399.40,171.02 L400.40,167.93 L401.40,164.95 L402.40,162.06 L403.40,159.23 L404.40,156.45 L405.40,153.68 L406.40,150.90 L407.40,148.08 L408.40,145.21 L409.40,142.25 L410.40,139.17 L411.40,135.97 L412.40,132.60 L413.40,129.06 L414.40,125.41 L415.40,121.74 L416.40,118.15 L417.40,114.72 L418.40,111.54 L419.40,108.62 L420.40,105.93 L421.40,103.48 L422.40,101.25 L423.40,99.23 L424.40,97.40 L425.40,95.77 L426.40,94.31 L427.40,93.03 L428.40,91.98 L429.40,91.17 L430.40,90.65 L431.40,90.46 L432.40,90.62 L433.40,91.17 L434.40,92.10 L435.40,93.38 L436.40,95.00 L437.40,96.94 L438.40,99.15 L439.40,101.64 L440.40,104.36 L441.40,107.30 L442.40,110.44 L443.40,113.74 L444.40,117.21 L445.40,120.81 L446.40,124.55 L447.40,128.40 L448.40,132.35 L449.40,136.38 L450.40,140.49 L451.40,144.65 L452.40,148.86 L453.40,153.09 L454.40,157.34 L455.40,161.60 L456.40,165.85 L457.40,170.09 L458.40,174.33 L459.40,178.55 L460.40,182.75 L461.40,186.92 L462.40,191.07 L463.40,195.19 L464.40,199.27 L465.40,203.31 L466.40,207.31 L467.40,211.25 L468.40,215.15 L469.40,218.98 L470.40,222.75 L471.40,226.44 L472.40,230.05 L473.40,233.57 L474.40,237.00 L475.40,240.32 L476.40,243.53 L477.40,246.63 L478.40,249.59 L479.40,252.43 L480.40,255.12 L481.40,257.66 L482.40,260.05 L483.40,262.28 L484.40,264.33 L485.40,266.20 L486.40,267.89 L487.40,269.39 L488.40,270.69 L489.40,271.78" fill="none" stroke="#808080" stroke-width="3"/>
<path d="M300.00,317.99 L301.00,317.72 L302.01,317.41 L303.01,317.08 L304.01,316.73 L305.02,316.35 L306.02,315.95 L307.02,315.52 L308.03,315.07 L309.03,314.59 L310.03,314.10 L311.04,313.58 L312.04,313.04 L313.04,312.47 L314.05,311.89 L315.05,311.28 L316.05,310.66 L317.06,310.01 L318.06,309.34 L319.06,308.66 L320.07,307.95 L321.07,307.23 L322.07,306.49 L323.08,305.73 L324.08,304.95 L325.09,304.16 L326.09,303.35 L327.09,302.52 L328.10,301.68 L329.10,300.82 L330.10,299.95 L331.11,299.06 L332.11,298.16 L333.11,297.24 L334.12,296.31 L335.12,295.37 L336.12,294.41 L337.13,293.44 L338.13,292.46 L339.13,291.47 L340.14,290.47 L341.14,289.45 L342.14,288.43 L343.15,287.39 L344.15,286.35 L345.15,285.29 L346.16,284.23 L347.16,283.16 L348.16,282.08 L349.17,280.99 L350.17,279.89 L351.17,278.79 L352.18,277.68 L353.18,276.56 L354.18,275.44 L355.19,274.31 L356.19,273.18 L357.19,272.04 L358.20,270.90 L359.20,269.76 L360.20,268.61 L361.21,267.45 L362.21,266.30 L363.21,265.14 L364.22,263.98 L365.22,262.82 L366.22,261.64 L367.23,260.45 L368.23,259.23 L369.23,257.96 L370.24,256.64 L371.24,255.25 L372.25,253.78 L373.25,252.23 L374.25,250.58 L375.26,248.82 L376.26,246.94 L377.26,244.93 L378.27,242.77 L379.27,240.46 L380.27,237.99 L381.28,235.33 L382.28,232.49 L383.28,229.45 L384.29,226.22 L385.29,222.81 L386.29,219.27 L387.30,215.62 L388.30,211.89 L389.30,208.11 L390.31,204.31 L391.31,200.52 L392.31,196.74 L393.32,192.96 L394.32,189.13 L395.32,185.23 L396.33,181.23 L397.33,177.08 L398.33,172.77 L399.34,168.25 L400.34,163.54 L401.34,158.70 L402.35,153.80 L403.35,148.91 L404.35,144.10 L405.36,139.44 L406.36,134.95 L407.36,130.55 L408.37,126.19 L409.37,121.78 L410.37,117.28 L411.38,112.63 L412.38,107.87 L413.38,103.03 L414.39,98.13 L415.39,93.19 L416.39,88.25 L417.40,83.32 L418.40,78.48 L419.41,73.91 L420.41,69.88 L421.41,66.55 L422.42,63.85 L423.42,61.70 L424.42,60.00 L425.43,58.66 L426.43,57.60 L427.43,56.79 L428.44,56.23 L429.44,55.93 L430.44,55.88 L431.45,56.08 L432.45,56.54 L433.45,57.26 L434.46,58.24 L435.46,59.48 L436.46,60.98 L437.47,62.76 L438.47,64.79 L439.47,67.10 L440.48,69.68 L441.48,72.53 L442.48,75.63 L443.49,78.97 L444.49,82.52 L445.49,86.25 L446.50,90.15 L447.50,94.20 L448.50,98.37 L449.51,102.64 L450.51,106.98 L451.51,111.40 L452.52,116.19 L453.52,121.95 L454.52,129.32 L455.53,138.36 L456.53,147.12 L457.53,153.45 L458.54,157.71 L459.54,161.64 L460.54,166.78 L461.55,172.96 L462.55,179.15 L463.55,184.87 L464.56,190.14 L465.56,195.00 L466.57,199.49 L467.57,203.65 L468.57,207.50 L469.58,211.10 L470.58,214.49 L471.58,217.68 L472.59,220.74 L473.59,223.69 L474.59,226.56 L475.60,229.41 L476.60,232.21 L477.60,234.98 L478.61,237.72 L479.61,240.41 L480.61,243.07 L481.62,245.69 L482.62,248.27 L483.62,250.81 L484.63,253.31 L485.63,255.77 L486.63,258.19 L487.64,260.56 L488.64,262.89 L489.64,265.17 L490.65,267.41 L491.65,269.60 L492.65,271.75 L493.66,273.84 L494.66,275.89 L495.66,277.89 L496.67,279.84 L497.67,281.74 L498.67,283.58 L499.68,285.37 L500.68,287.11 L501.68,288.80 L502.69,290.44 L503.69,292.02 L504.69,293.55 L505.70,295.03 L506.70,296.47 L507.70,297.85 L508.71,299.18 L509.71,300.47 L510.71,301.71 L511.72,302.91 L512.72,304.06 L513.73,305.17 L514.73,306.23 L515.73,307.25 L516.74,308.22 L517.74,309.16 L518.74,310.05 L519.75,310.90 L520.75,311.72 L521.75,312.49 L522.76,313.23 L523.76,313.92 L524.76,314.58 L525.77,315.21 L526.77,315.80 L527.77,316.35 L528.78,316.87 L529.78,317.36 L530.78,317.81 L531.79,318.24 L532.79,318.63 L533.79,318.99 L534.80,319.31 L535.80,319.61" fill="none" stroke="#00ee00" stroke-width="2.6" stroke-dasharray="6,5"/>
<path d="M344.70,293.65 L345.70,292.84 L346.70,292.08 L347.71,291.35 L348.71,290.65 L349.71,289.98 L350.71,289.32 L351.71,288.69 L352.71,288.07 L353.72,287.45 L354.72,286.83 L355.72,286.21 L356.72,285.59 L357.72,284.94 L358.72,284.28 L359.73,283.60 L360.73,282.88 L361.73,282.14 L362.73,281.35 L363.73,280.52 L364.73,279.64 L365.74,278.71 L366.74,277.71 L367.74,276.66 L368.74,275.53 L369.74,274.33 L370.75,273.05 L371.75,271.69 L372.75,270.24 L373.75,268.69 L374.75,267.05 L375.75,265.30 L376.76,263.44 L377.76,261.47 L378.76,259.37 L379.76,257.16 L380.76,254.83 L381.76,252.39 L382.77,249.83 L383.77,247.17 L384.77,244.40 L385.77,241.53 L386.77,238.57 L387.77,235.51 L388.78,232.35 L389.78,229.11 L390.78,225.79 L391.78,222.38 L392.78,218.89 L393.78,215.33 L394.79,211.70 L395.79,208.00 L396.79,204.23 L397.79,200.40 L398.79,196.51 L399.80,192.56 L400.80,188.56 L401.80,184.51 L402.80,180.38 L403.80,176.16 L404.80,171.85 L405.81,167.41 L406.81,162.83 L407.81,158.10 L408.81,153.20 L409.81,148.12 L410.81,142.93 L411.82,137.70 L412.82,132.52 L413.82,127.48 L414.82,122.67 L415.82,118.17 L416.82,114.06 L417.83,110.36 L418.83,107.05 L419.83,104.11 L420.83,101.50 L421.83,99.20 L422.84,97.20 L423.84,95.45 L424.84,93.95 L425.84,92.65 L426.84,91.55 L427.84,90.60 L428.85,89.80 L429.85,89.14 L430.85,88.62 L431.85,88.27 L432.85,88.08 L433.85,88.08 L434.86,88.25 L435.86,88.63 L436.86,89.20 L437.86,90.00 L438.86,91.01 L439.86,92.26 L440.87,93.74 L441.87,95.48 L442.87,97.48 L443.87,99.74 L444.87,102.28 L445.88,105.05 L446.88,108.00 L447.88,111.09 L448.88,114.25 L449.88,117.45 L450.88,120.63 L451.89,123.74 L452.89,126.72 L453.89,129.54 L454.89,132.26 L455.89,134.99 L456.89,137.85 L457.90,140.96 L458.90,144.45 L459.90,148.42 L460.90,153.00 L461.90,158.14 L462.90,163.65 L463.91,169.31 L464.91,174.92 L465.91,180.32 L466.91,185.45 L467.91,190.33 L468.92,194.98 L469.92,199.41 L470.92,203.62 L471.92,207.62 L472.92,211.44 L473.92,215.07 L474.93,218.54 L475.93,221.85 L476.93,225.01 L477.93,228.04 L478.93,230.94 L479.93,233.73 L480.94,236.42 L481.94,239.01 L482.94,241.53 L483.94,243.99 L484.94,246.38 L485.94,248.73 L486.95,251.05 L487.95,253.34 L488.95,255.63 L489.95,257.91 L490.95,260.19 L491.95,262.46 L492.96,264.72 L493.96,266.96 L494.96,269.19 L495.96,271.39 L496.96,273.57 L497.97,275.71 L498.97,277.83 L499.97,279.90 L500.97,281.93 L501.97,283.91 L502.97,285.85 L503.98,287.72 L504.98,289.54 L505.98,291.30 L506.98,293.00 L507.98,294.62 L508.98,296.17 L509.99,297.64 L510.99,299.02 L511.99,300.33 L512.99,301.54 L513.99,302.66 L514.99,303.68 L516.00,304.60 L517.00,305.41 L518.00,306.12" fill="none" stroke="#ff1493" stroke-width="3" stroke-dasharray="11,6,3.5,6"/>
<path d="M300.60,316.70 L301.60,316.30 L302.61,315.89 L303.61,315.47 L304.61,315.05 L305.61,314.61 L306.62,314.17 L307.62,313.71 L308.62,313.25 L309.62,312.77 L310.63,312.29 L311.63,311.79 L312.63,311.28 L313.63,310.76 L314.64,310.23 L315.64,309.68 L316.64,309.13 L317.64,308.56 L318.65,307.97 L319.65,307.38 L320.65,306.77 L321.65,306.15 L322.66,305.51 L323.66,304.86 L324.66,304.20 L325.66,303.52 L326.67,302.82 L327.67,302.11 L328.67,301.39 L329.67,300.64 L330.68,299.89 L331.68,299.11 L332.68,298.32 L333.68,297.52 L334.69,296.69 L335.69,295.85 L336.69,295.00 L337.69,294.12 L338.70,293.22 L339.70,292.31 L340.70,291.38 L341.70,290.43 L342.70,289.46 L343.71,288.47 L344.71,287.47 L345.71,286.44 L346.71,285.39 L347.72,284.32 L348.72,283.23 L349.72,282.12 L350.72,280.99 L351.73,279.84 L352.73,278.66 L353.73,277.47 L354.73,276.25 L355.74,275.01 L356.74,273.75 L357.74,272.46 L358.74,271.15 L359.75,269.82 L360.75,268.46 L361.75,267.08 L362.75,265.67 L363.76,264.24 L364.76,262.78 L365.76,261.27 L366.76,259.72 L367.77,258.11 L368.77,256.43 L369.77,254.67 L370.77,252.82 L371.78,250.88 L372.78,248.84 L373.78,246.69 L374.78,244.41 L375.79,242.01 L376.79,239.46 L377.79,236.77 L378.79,233.92 L379.80,230.92 L380.80,227.79 L381.80,224.55 L382.80,221.24 L383.81,217.87 L384.81,214.46 L385.81,211.06 L386.81,207.66 L387.82,204.30 L388.82,200.96 L389.82,197.64 L390.82,194.35 L391.83,191.07 L392.83,187.81 L393.83,184.57 L394.83,181.32 L395.84,178.01 L396.84,174.61 L397.84,171.06 L398.84,167.34 L399.84,163.38 L400.85,159.17 L401.85,154.72 L402.85,150.06 L403.85,145.23 L404.86,140.28 L405.86,135.25 L406.86,130.18 L407.86,125.10 L408.87,120.06 L409.87,115.11 L410.87,110.27 L411.87,105.59 L412.88,101.12 L413.88,96.88 L414.88,92.93 L415.88,89.30 L416.89,86.03 L417.89,83.13 L418.89,80.56 L419.89,78.33 L420.90,76.42 L421.90,74.81 L422.90,73.49 L423.90,72.44 L424.91,71.65 L425.91,71.10 L426.91,70.78 L427.91,70.68 L428.92,70.78 L429.92,71.06 L430.92,71.51 L431.92,72.13 L432.93,72.91 L433.93,73.85 L434.93,74.94 L435.93,76.20 L436.94,77.61 L437.94,79.18 L438.94,80.91 L439.94,82.79 L440.95,84.83 L441.95,87.02 L442.95,89.36 L443.95,91.86 L444.96,94.50 L445.96,97.30 L446.96,100.25 L447.96,103.35 L448.97,106.60 L449.97,109.99 L450.97,113.53 L451.97,117.22 L452.98,121.06 L453.98,125.04 L454.98,129.16 L455.98,133.42 L456.99,137.82 L457.99,142.36 L458.99,147.03 L459.99,151.84 L460.99,156.77 L462.00,161.83 L463.00,167.02 L464.00,172.33 L465.00,177.77 L466.01,183.28 L467.01,188.79 L468.01,194.19 L469.01,199.38 L470.02,204.26 L471.02,208.73 L472.02,212.73 L473.02,216.32 L474.03,219.61 L475.03,222.66 L476.03,225.56 L477.03,228.41 L478.04,231.22 L479.04,233.99 L480.04,236.73 L481.04,239.43 L482.05,242.09 L483.05,244.72 L484.05,247.31 L485.05,249.86 L486.06,252.37 L487.06,254.84 L488.06,257.27 L489.06,259.65 L490.07,262.00 L491.07,264.30 L492.07,266.56 L493.07,268.77 L494.08,270.94 L495.08,273.06 L496.08,275.13 L497.08,277.16 L498.09,279.14 L499.09,281.07 L500.09,282.95 L501.09,284.78 L502.10,286.56 L503.10,288.29 L504.10,289.97 L505.10,291.60 L506.11,293.17 L507.11,294.68 L508.11,296.15 L509.11,297.55 L510.12,298.90 L511.12,300.20 L512.12,301.44 L513.12,302.62 L514.13,303.75 L515.13,304.84 L516.13,305.87 L517.13,306.86 L518.13,307.81 L519.14,308.71 L520.14,309.57 L521.14,310.39 L522.14,311.17 L523.15,311.92 L524.15,312.64 L525.15,313.32 L526.15,313.97 L527.16,314.59 L528.16,315.19 L529.16,315.76 L530.16,316.30 L531.17,316.83 L532.17,317.33 L533.17,317.82 L534.17,318.29 L535.18,318.75 L536.18,319.19 L537.18,319.62 L538.18,320.05 L539.19,320.46 L540.19,320.87 L541.19,321.28 L542.19,321.68 L543.20,322.08 L544.20,322.49" fill="none" stroke="#ff0000" stroke-width="3"/>
</g>
<path d="M65.53,23.5 v3 M65.53,328.5 v-3 M73.16,23.5 v3 M73.16,328.5 v-3 M78.57,23.5 v3 M78.57,328.5 v-3 M82.77,23.5 v3 M82.77,328.5 v-3 M86.19,23.5 v3 M86.19,328.5 v-3 M89.09,23.5 v3 M89.09,328.5 v-3 M91.60,23.5 v3 M91.60,328.5 v-3 M93.82,23.5 v3 M93.82,328.5 v-3 M95.80,23.5 v5.5 M95.80,328.5 v-5.5 M108.83,23.5 v3 M108.83,328.5 v-3 M116.46,23.5 v3 M116.46,328.5 v-3 M121.87,23.5 v3 M121.87,328.5 v-3 M126.07,23.5 v3 M126.07,328.5 v-3 M129.49,23.5 v3 M129.49,328.5 v-3 M132.39,23.5 v3 M132.39,328.5 v-3 M134.90,23.5 v3 M134.90,328.5 v-3 M137.12,23.5 v3 M137.12,328.5 v-3 M139.10,23.5 v5.5 M139.10,328.5 v-5.5 M152.13,23.5 v3 M152.13,328.5 v-3 M159.76,23.5 v3 M159.76,328.5 v-3 M165.17,23.5 v3 M165.17,328.5 v-3 M169.37,23.5 v3 M169.37,328.5 v-3 M172.79,23.5 v3 M172.79,328.5 v-3 M175.69,23.5 v3 M175.69,328.5 v-3 M178.20,23.5 v3 M178.20,328.5 v-3 M180.42,23.5 v3 M180.42,328.5 v-3 M182.40,23.5 v5.5 M182.40,328.5 v-5.5 M195.43,23.5 v3 M195.43,328.5 v-3 M203.06,23.5 v3 M203.06,328.5 v-3 M208.47,23.5 v3 M208.47,328.5 v-3 M212.67,23.5 v3 M212.67,328.5 v-3 M216.09,23.5 v3 M216.09,328.5 v-3 M218.99,23.5 v3 M218.99,328.5 v-3 M221.50,23.5 v3 M221.50,328.5 v-3 M223.72,23.5 v3 M223.72,328.5 v-3 M225.70,23.5 v5.5 M225.70,328.5 v-5.5 M238.73,23.5 v3 M238.73,328.5 v-3 M246.36,23.5 v3 M246.36,328.5 v-3 M251.77,23.5 v3 M251.77,328.5 v-3 M255.97,23.5 v3 M255.97,328.5 v-3 M259.39,23.5 v3 M259.39,328.5 v-3 M262.29,23.5 v3 M262.29,328.5 v-3 M264.80,23.5 v3 M264.80,328.5 v-3 M267.02,23.5 v3 M267.02,328.5 v-3 M269.00,23.5 v5.5 M269.00,328.5 v-5.5 M282.03,23.5 v3 M282.03,328.5 v-3 M289.66,23.5 v3 M289.66,328.5 v-3 M295.07,23.5 v3 M295.07,328.5 v-3 M52.5,327.80 h5.5 M299.5,327.80 h-5.5 M52.5,304.00 h3 M299.5,304.00 h-3 M52.5,280.20 h5.5 M299.5,280.20 h-5.5 M52.5,256.40 h3 M299.5,256.40 h-3 M52.5,232.60 h5.5 M299.5,232.60 h-5.5 M52.5,208.80 h3 M299.5,208.80 h-3 M52.5,185.00 h5.5 M299.5,185.00 h-5.5 M52.5,161.20 h3 M299.5,161.20 h-3 M52.5,137.40 h5.5 M299.5,137.40 h-5.5 M52.5,113.60 h3 M299.5,113.60 h-3 M52.5,89.80 h5.5 M299.5,89.80 h-5.5 M52.5,66.00 h3 M299.5,66.00 h-3 M52.5,42.20 h5.5 M299.5,42.20 h-5.5 M300.00,23.5 v5.5 M300.00,328.5 v-5.5 M312.82,23.5 v3 M312.82,328.5 v-3 M320.33,23.5 v3 M320.33,328.5 v-3 M325.65,23.5 v3 M325.65,328.5 v-3 M329.78,23.5 v3 M329.78,328.5 v-3 M333.15,23.5 v3 M333.15,328.5 v-3 M336.00,23.5 v3 M336.00,328.5 v-3 M338.47,23.5 v3 M338.47,328.5 v-3 M340.65,23.5 v3 M340.65,328.5 v-3 M342.60,23.5 v5.5 M342.60,328.5 v-5.5 M355.42,23.5 v3 M355.42,328.5 v-3 M362.93,23.5 v3 M362.93,328.5 v-3 M368.25,23.5 v3 M368.25,328.5 v-3 M372.38,23.5 v3 M372.38,328.5 v-3 M375.75,23.5 v3 M375.75,328.5 v-3 M378.60,23.5 v3 M378.60,328.5 v-3 M381.07,23.5 v3 M381.07,328.5 v-3 M383.25,23.5 v3 M383.25,328.5 v-3 M385.20,23.5 v5.5 M385.20,328.5 v-5.5 M398.02,23.5 v3 M398.02,328.5 v-3 M405.53,23.5 v3 M405.53,328.5 v-3 M410.85,23.5 v3 M410.85,328.5 v-3 M414.98,23.5 v3 M414.98,328.5 v-3 M418.35,23.5 v3 M418.35,328.5 v-3 M421.20,23.5 v3 M421.20,328.5 v-3 M423.67,23.5 v3 M423.67,328.5 v-3 M425.85,23.5 v3 M425.85,328.5 v-3 M427.80,23.5 v5.5 M427.80,328.5 v-5.5 M440.62,23.5 v3 M440.62,328.5 v-3 M448.13,23.5 v3 M448.13,328.5 v-3 M453.45,23.5 v3 M453.45,328.5 v-3 M457.58,23.5 v3 M457.58,328.5 v-3 M460.95,23.5 v3 M460.95,328.5 v-3 M463.80,23.5 v3 M463.80,328.5 v-3 M466.27,23.5 v3 M466.27,328.5 v-3 M468.45,23.5 v3 M468.45,328.5 v-3 M470.40,23.5 v5.5 M470.40,328.5 v-5.5 M483.22,23.5 v3 M483.22,328.5 v-3 M490.73,23.5 v3 M490.73,328.5 v-3 M496.05,23.5 v3 M496.05,328.5 v-3 M500.18,23.5 v3 M500.18,328.5 v-3 M503.55,23.5 v3 M503.55,328.5 v-3 M506.40,23.5 v3 M506.40,328.5 v-3 M508.87,23.5 v3 M508.87,328.5 v-3 M511.05,23.5 v3 M511.05,328.5 v-3 M513.00,23.5 v5.5 M513.00,328.5 v-5.5 M525.82,23.5 v3 M525.82,328.5 v-3 M533.33,23.5 v3 M533.33,328.5 v-3 M538.65,23.5 v3 M538.65,328.5 v-3 M542.78,23.5 v3 M542.78,328.5 v-3 M543.5,327.80 h-5.5 M543.5,304.00 h-3 M543.5,280.20 h-5.5 M543.5,256.40 h-3 M543.5,232.60 h-5.5 M543.5,208.80 h-3 M543.5,185.00 h-5.5 M543.5,161.20 h-3 M543.5,137.40 h-5.5 M543.5,113.60 h-3 M543.5,89.80 h-5.5 M543.5,66.00 h-3 M543.5,42.20 h-5.5" stroke="#000" stroke-width="1.2" fill="none"/>
<rect x="52.5" y="23.5" width="247.0" height="305.0" fill="none" stroke="#000" stroke-width="1.4"/>
<rect x="299.5" y="23.5" width="244.0" height="305.0" fill="none" stroke="#000" stroke-width="1.4"/>
<text x="46.9" y="333.2" font-size="15.3" text-anchor="end">0</text>
<text x="46.9" y="285.6" font-size="15.3" text-anchor="end">5</text>
<text x="46.9" y="238.0" font-size="15.3" text-anchor="end">10</text>
<text x="46.9" y="190.4" font-size="15.3" text-anchor="end">15</text>
<text x="46.9" y="142.8" font-size="15.3" text-anchor="end">20</text>
<text x="46.9" y="95.2" font-size="15.3" text-anchor="end">25</text>
<text x="46.9" y="47.6" font-size="15.3" text-anchor="end">30</text>
<text x="42.2" y="346.6" font-size="15">10</text>
<text x="58.1" y="340.6" font-size="9.5" letter-spacing="-0.6">-1</text>
<text x="87.2" y="346.6" font-size="15">10</text>
<text x="103.7" y="340.6" font-size="9.5">0</text>
<text x="130.5" y="346.6" font-size="15">10</text>
<text x="147.0" y="340.6" font-size="9.5">1</text>
<text x="173.8" y="346.6" font-size="15">10</text>
<text x="190.3" y="340.6" font-size="9.5">2</text>
<text x="217.1" y="346.6" font-size="15">10</text>
<text x="233.6" y="340.6" font-size="9.5">3</text>
<text x="260.4" y="346.6" font-size="15">10</text>
<text x="276.9" y="340.6" font-size="9.5">4</text>
<text x="291.7" y="346.6" font-size="15">10</text>
<text x="307.6" y="340.6" font-size="9.5" letter-spacing="-0.6">-1</text>
<text x="336.0" y="346.6" font-size="15">10</text>
<text x="352.5" y="340.6" font-size="9.5">0</text>
<text x="378.6" y="346.6" font-size="15">10</text>
<text x="395.1" y="340.6" font-size="9.5">1</text>
<text x="421.2" y="346.6" font-size="15">10</text>
<text x="437.7" y="340.6" font-size="9.5">2</text>
<text x="463.8" y="346.6" font-size="15">10</text>
<text x="480.3" y="340.6" font-size="9.5">3</text>
<text x="506.4" y="346.6" font-size="15">10</text>
<text x="522.9" y="340.6" font-size="9.5">4</text>
<text x="176.2" y="372.7" font-size="19">Equivalent Proton Energy [keV]</text>
<text transform="translate(23.5,357.4) rotate(-90)" font-size="19.25">Stopping cross-section [10<tspan font-size="10.5" dy="-10">-15</tspan><tspan dy="10">eVcm</tspan><tspan font-size="10.5" dy="-10">2</tspan><tspan dy="10">/atom]</tspan></text>
</svg></body></html>
